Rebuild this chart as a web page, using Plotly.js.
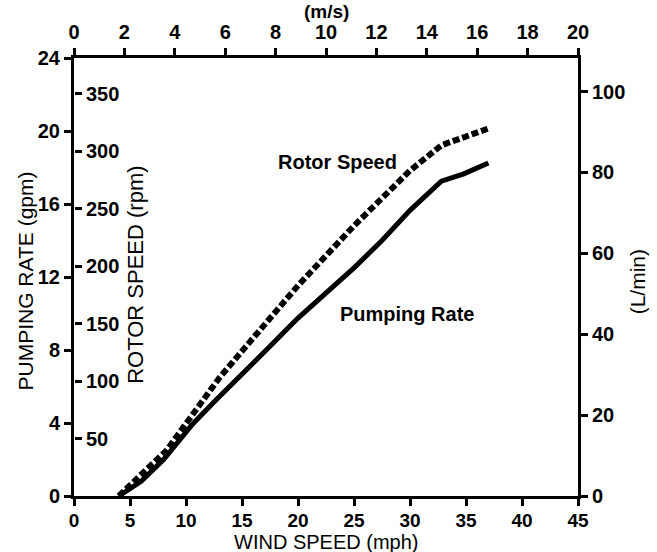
<!DOCTYPE html>
<html>
<head>
<meta charset="utf-8">
<script src="https://cdn.plot.ly/plotly-3.0.1.min.js"></script>
<style>html,body{margin:0;padding:0;background:#fff;}#chart{width:657px;height:552px;}</style>
</head>
<body>
<div id="chart"></div>
<script>
// Wind speed (mph) and pumping rate (gpm) - solid line
const pumpWind = [4, 6, 8, 10.6, 12.5, 15, 17.5, 20, 22.5, 25, 27.5, 30, 32.8, 34.8, 37];
const pumpRate = [0, 0.8, 2.0, 3.95, 5.15, 6.65, 8.2, 9.75, 11.1, 12.5, 14.0, 15.65, 17.25, 17.65, 18.25];
// Wind speed (mph) and rotor speed (rpm) - dashed line
const rotorWind = [4, 6, 8.3, 10, 11.5, 13, 15, 17.5, 20, 22.5, 25, 27.5, 30, 32.8, 35, 37.1];
const rotorRpm  = [0, 19, 40, 63, 84, 103, 126, 155, 183, 209, 235, 259, 283, 305, 312, 320];

const xTicks = [0, 5, 10, 15, 20, 25, 30, 35, 40, 45];
const msTicks = [0, 2, 4, 6, 8, 10, 12, 14, 16, 18, 20];
const gpmTicks = [0, 4, 8, 12, 16, 20, 24];
const rpmTicks = [50, 100, 150, 200, 250, 300, 350];
const lminTicks = [0, 20, 40, 60, 80, 100];

const FONT = 'Liberation Sans, Arial, sans-serif';
const tickFont = {family: FONT, size: 20, color: '#000', weight: 'bold'};
const titleFont = {family: FONT, size: 21, color: '#000'};
const labelFont = {family: FONT, size: 20, color: '#000', weight: 'bold'};

const traces = [
  {x: pumpWind, y: pumpRate, xaxis: 'x', yaxis: 'y', mode: 'lines',
   line: {color: '#000', width: 5}, hoverinfo: 'skip', showlegend: false},
  {x: rotorWind, y: rotorRpm, xaxis: 'x', yaxis: 'y2', mode: 'lines',
   line: {color: '#000', width: 6, dash: '7px,3px'}, hoverinfo: 'skip', showlegend: false},
  // empty helper trace so that the top (m/s) and right (L/min) axes are drawn
  {x: [], y: [], xaxis: 'x2', yaxis: 'y3', mode: 'lines', hoverinfo: 'skip', showlegend: false}
];

const axBase = {showgrid: false, zeroline: false, showline: true, linecolor: '#000', linewidth: 3,
  ticks: 'outside', ticklen: 7, tickwidth: 3, tickcolor: '#000', tickfont: tickFont, fixedrange: true,
  autorange: false};

const layout = {
  width: 657, height: 552,
  margin: {l: 74, r: 79, t: 58, b: 56},
  paper_bgcolor: '#fff', plot_bgcolor: '#fff',
  showlegend: false,
  xaxis: Object.assign({}, axBase, {range: [0, 45], tickvals: xTicks, ticktext: xTicks.map(String),
    tickfont: {family: FONT, size: 19, color: '#000', weight: 'bold'}, ticklabelstandoff: -2}),
  xaxis2: Object.assign({}, axBase, {range: [0, 20], tickvals: msTicks, ticktext: msTicks.map(String),
    overlaying: 'x', side: 'top', anchor: 'y', ticklabelstandoff: 1}),
  yaxis: Object.assign({}, axBase, {range: [0, 24], tickvals: gpmTicks, ticktext: gpmTicks.map(String)}),
  yaxis2: Object.assign({}, axBase, {range: [0, 380.9], tickvals: rpmTicks, ticktext: rpmTicks.map(String),
    overlaying: 'y', side: 'right', anchor: 'free', position: 0, showline: false}),
  yaxis3: Object.assign({}, axBase, {range: [0, 108.3], tickvals: lminTicks, ticktext: lminTicks.map(String),
    overlaying: 'y', side: 'right', anchor: 'x'}),
  annotations: [
    {text: 'WIND SPEED (mph)', xref: 'paper', yref: 'paper', x: 0.5, y: -0.105,
     showarrow: false, font: {family: FONT, size: 20, color: '#000'}, xanchor: 'center', yanchor: 'middle',
     borderpad: 0},
    {text: '(m/s)', xref: 'paper', yref: 'paper', x: 0.5, y: 1.107,
     showarrow: false, font: {family: FONT, size: 19, color: '#000', weight: 'bold'},
     xanchor: 'center', yanchor: 'middle'},
    {text: 'PUMPING RATE (gpm)', xref: 'paper', yref: 'paper', x: -0.097, y: 0.49,
     textangle: -90, showarrow: false, font: titleFont, xanchor: 'center', yanchor: 'middle'},
    {text: 'ROTOR SPEED (rpm)', xref: 'paper', yref: 'paper', x: 0.123, y: 0.505,
     textangle: -90, showarrow: false, font: {family: FONT, size: 22, color: '#000'},
     xanchor: 'center', yanchor: 'middle'},
    {text: '(L/min)', xref: 'paper', yref: 'paper', x: 1.117, y: 0.49,
     textangle: -90, showarrow: false, font: titleFont, xanchor: 'center', yanchor: 'middle'},
    {text: 'Rotor Speed', xref: 'x', yref: 'y', x: 23.5, y: 18.3, showarrow: false, font: labelFont},
    {text: 'Pumping Rate', xref: 'x', yref: 'y', x: 29.7, y: 10.0, showarrow: false, font: labelFont}
  ]
};

Plotly.newPlot('chart', traces, layout, {staticPlot: true, displayModeBar: false});
</script>
</body>
</html>
